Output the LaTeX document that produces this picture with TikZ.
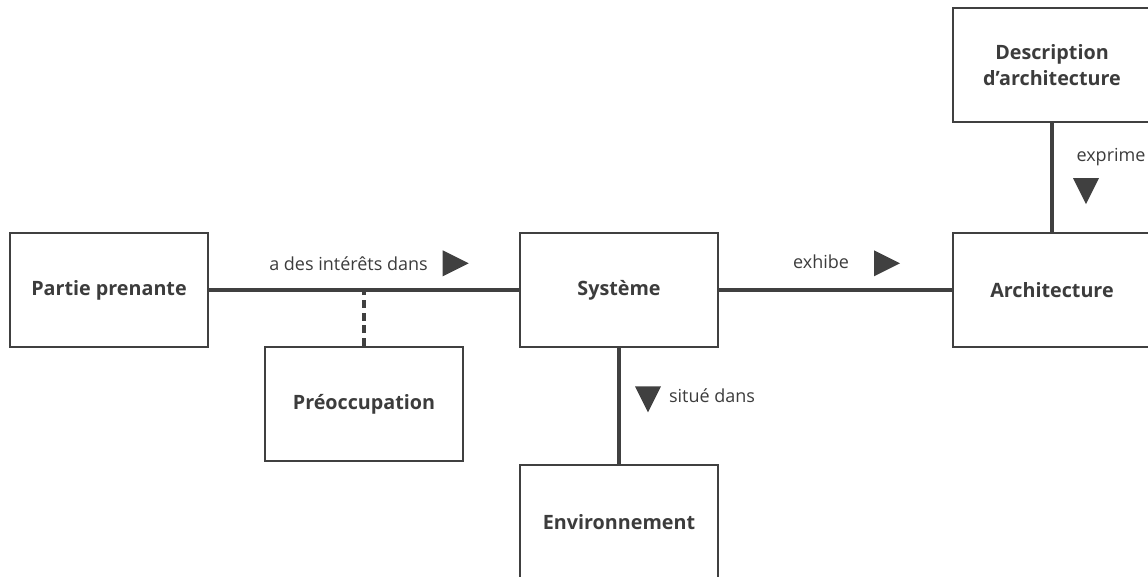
\documentclass[tikz,border=0pt]{standalone}
\usepackage{fontspec}
\setmainfont{Open Sans}
\usetikzlibrary{positioning,shapes.geometric}
\definecolor{boxgrey}{HTML}{404040}
\definecolor{textgrey}{HTML}{3C3C3C}

\begin{document}
\begin{tikzpicture}[node distance =85.5pt and 191.25pt ,on grid ,
box/.style ={ rectangle ,fill =white ,draw =boxgrey ,line width =1.7pt ,
minimum width =148.5pt ,minimum height =85.5pt ,align =center ,
text =textgrey ,font =\bfseries\fontsize{14.8}{20}\selectfont},
link/.style ={ draw =boxgrey ,line width =2.6pt},
lbl/.style ={ text =textgrey ,inner sep =0pt ,font =\fontsize{13.5}{16}\selectfont},
tip/.style ={ isosceles triangle ,isosceles triangle stretches ,fill =boxgrey ,
inner sep =0pt ,minimum width =19.5pt ,minimum height =19.5pt}]
\clip (0,0) rectangle (861pt,-432pt);
\node[box] (Partie) at (81.75pt,-217.5pt) {Partie prenante};
\node[box] (Systeme) [right=382.5pt of Partie] {Système};
\node[box] (Archi) [right=324.75pt of Systeme] {Architecture};
\node[box] (Desc) [above=168.75pt of Archi] {Description\\d’architecture};
\node[box] (Preoc) [below right=of Partie] {Préoccupation};
\node[box] (Env) [below=174pt of Systeme] {Environnement};
\coordinate (Joint) at (Preoc |- Partie);

\path[link] (Partie) -- (Systeme)
  node[lbl, pos=0.45, yshift=19.5pt] (InteretLbl) {a des intérêts dans}
  node[tip, pos=0.78, yshift=20pt, shape border rotate=0] (InteretTip) {};
\path[link] (Systeme) -- (Archi)
  node[lbl, pos=0.438, yshift=21pt] (ExhibeLbl) {exhibe}
  node[tip, pos=0.70, yshift=20pt, shape border rotate=0] (ExhibeTip) {};
\path[link] (Systeme) -- (Env)
  node[lbl, pos=0.41, xshift=69.75pt] (SitueLbl) {situé dans}
  node[tip, pos=0.40, xshift=21.75pt, shape border rotate=-90] (SitueTip) {};
\path[link] (Desc) -- (Archi)
  node[lbl, pos=0.31, xshift=44.25pt] (ExprimeLbl) {exprime}
  node[tip, pos=0.58, xshift=25.5pt, shape border rotate=-90] (ExprimeTip) {};
\path[link, line width=2.4pt, dash pattern=on 6pt off 3.5pt] (Preoc) -- (Joint);
\end{tikzpicture}
\end{document}
